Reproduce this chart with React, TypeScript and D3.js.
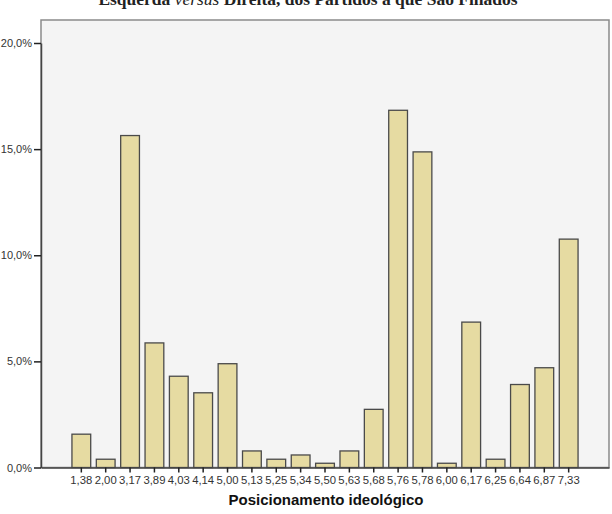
import React, { useEffect, useRef } from 'react';
import * as d3 from 'd3';

const categories: string[] = [
  '1,38', '2,00', '3,17', '3,89', '4,03', '4,14', '5,00', '5,13', '5,25', '5,34', '5,50',
  '5,63', '5,68', '5,76', '5,78', '6,00', '6,17', '6,25', '6,64', '6,87', '7,33',
];
const percents: number[] = [
  1.57, 0.39, 15.64, 5.87, 4.3, 3.52, 4.89, 0.78, 0.39, 0.59, 0.2,
  0.78, 2.74, 16.83, 14.87, 0.2, 6.85, 0.39, 3.91, 4.7, 10.76,
];
const yTicks: number[] = [0, 5, 10, 15, 20];

const title = 'Esquerda versus Direita, dos Partidos a que São Filiados';
const xTitle = 'Posicionamento ideológico';

const W = 612;
const H = 514;

const App: React.FC = () => {
  const svgRef = useRef<SVGSVGElement | null>(null);

  useEffect(() => {
    if (!svgRef.current) return;
    const svg = d3.select(svgRef.current);
    svg.selectAll('*').remove();

    const left = 41;
    const right = 609;
    const top = 20;
    const bottom = 467.5;

    const x = d3
      .scaleBand<string>()
      .domain(categories)
      .range([left, right])
      .paddingInner(0.23)
      .paddingOuter(1.27);
    const y = d3.scaleLinear().domain([0, 20]).range([bottom, bottom - 424.5]);

    // plot background + frame
    svg
      .append('rect')
      .attr('x', left)
      .attr('y', top)
      .attr('width', right - left)
      .attr('height', bottom - top)
      .attr('fill', '#f4f4f4')
      .attr('stroke', '#8a8a8a')
      .attr('stroke-width', 1.5);

    // title (cut off at top, like the source)
    const t = svg
      .append('text')
      .attr('x', 308)
      .attr('y', 5)
      .attr('text-anchor', 'middle')
      .attr('font-family', '"Liberation Serif", serif')
      .attr('font-weight', 'bold')
      .attr('font-size', 17.5)
      .attr('fill', '#222');
    const parts = title.split('versus');
    t.append('tspan').text(parts[0]);
    t.append('tspan').attr('font-style', 'italic').attr('font-weight', 'normal').text('versus');
    t.append('tspan').text(parts[1]);

    // bars
    svg
      .append('g')
      .selectAll('rect')
      .data(percents)
      .enter()
      .append('rect')
      .attr('x', (_d, i) => x(categories[i]) as number)
      .attr('y', (d) => y(d))
      .attr('width', x.bandwidth())
      .attr('height', (d) => bottom - y(d))
      .attr('fill', '#e6dba2')
      .attr('stroke', '#4a4a4a')
      .attr('stroke-width', 1.3);

    // y axis
    const yAxis = svg
      .append('g')
      .attr('transform', `translate(${left},0)`)
      .call(
        d3
          .axisLeft(y)
          .tickValues(yTicks)
          .tickSize(7)
          .tickSizeOuter(0)
          .tickFormat((d) => `${(d as number).toFixed(1).replace('.', ',')}%`)
      );
    yAxis.select('.domain').attr('stroke', '#444').attr('stroke-width', 1.5);
    yAxis.selectAll('.tick line').attr('stroke', '#222').attr('stroke-width', 1.5);
    yAxis
      .selectAll('.tick text')
      .attr('x', -9)
      .attr('font-family', '"Liberation Sans", Arial, sans-serif')
      .attr('font-size', 11)
      .attr('fill', '#333');

    // x axis
    const xAxis = svg
      .append('g')
      .attr('transform', `translate(0,${bottom})`)
      .call(d3.axisBottom(x).tickSize(5).tickSizeOuter(0));
    xAxis.select('.domain').attr('stroke', '#444').attr('stroke-width', 1.5);
    xAxis.selectAll('.tick line').attr('stroke', '#222').attr('stroke-width', 1.5);
    xAxis
      .selectAll('.tick text')
      .attr('y', 8)
      .attr('font-family', '"Liberation Sans", Arial, sans-serif')
      .attr('font-size', 11.3)
      .attr('fill', '#333');

    svg
      .append('text')
      .attr('x', 326)
      .attr('y', 505)
      .attr('text-anchor', 'middle')
      .attr('font-family', '"Liberation Sans", Arial, sans-serif')
      .attr('font-weight', 'bold')
      .attr('font-size', 15)
      .attr('fill', '#111')
      .text(xTitle);
  }, []);

  return (
    <svg
      ref={svgRef}
      width={W}
      height={H}
      style={{ position: 'absolute', left: 0, top: 0, background: '#fff' }}
    />
  );
};

export default App;
